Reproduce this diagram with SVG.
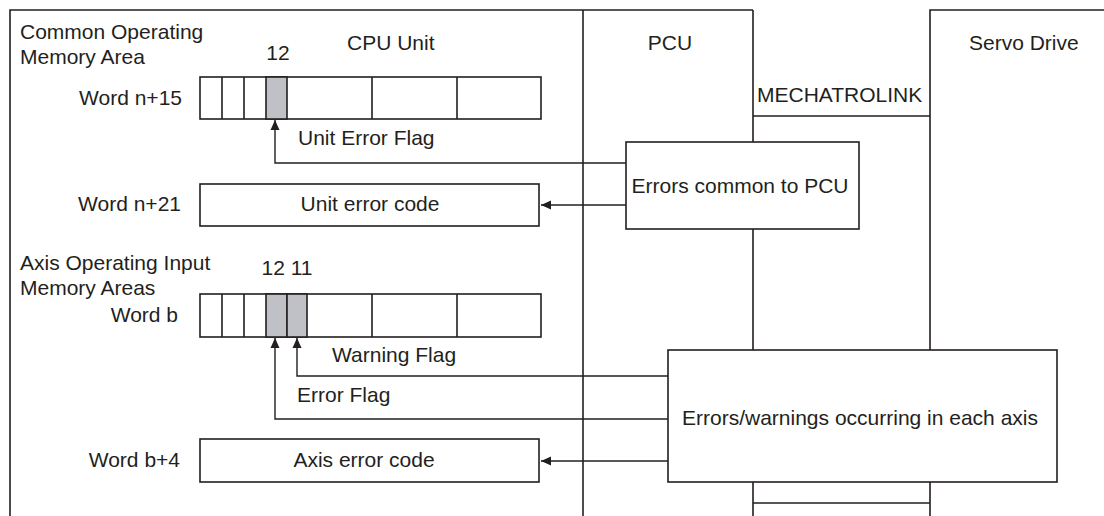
<svg xmlns="http://www.w3.org/2000/svg" width="1104" height="516" viewBox="0 0 1104 516">
<defs>
<marker id="ah" markerWidth="10" markerHeight="10" refX="10" refY="5" orient="auto" markerUnits="userSpaceOnUse">
<path d="M0,0.5 L10,5 L0,9.5 Z" fill="#231f20"/>
</marker>
<style>
.ln{stroke:#231f20;stroke-width:1.6;fill:none}
.bx{stroke:#231f20;stroke-width:1.6;fill:#fff}
.sh{stroke:#231f20;stroke-width:1.6;fill:#bfc1c7}
.cn{stroke:#231f20;stroke-width:1.4;fill:none}
text{font-family:"Liberation Sans",Arial,sans-serif;font-size:21px;fill:#231f20}
.m{text-anchor:middle}
.e{text-anchor:end}
</style>
</defs>
<rect width="1104" height="516" fill="#fff"/>
<g id="cpu-unit">
<path class="ln" d="M10,516 V10 H753"/>
<text x="20" y="39">Common Operating</text>
<text x="20" y="64">Memory Area</text>
<text x="347" y="50">CPU Unit</text>
</g>
<g id="pcu">
<path class="ln" d="M583,10 V516"/>
<path class="ln" d="M753,10 V142 M753,229 V350 M753,482 V516"/>
<text x="670" y="50" class="m">PCU</text>
</g>
<g id="servo-drive">
<path class="ln" d="M930,516 V482 M930,350 V10 H1104"/>
<text x="969" y="50">Servo Drive</text>
</g>
<g id="mechatrolink">
<path class="ln" d="M753,116 H930 M753,503 H930"/>
<text x="757" y="102">MECHATROLINK</text>
</g>
<g id="word-n15">
<text x="182" y="105" class="e">Word n+15</text>
<text x="278" y="60" class="m">12</text>
<rect class="bx" x="200" y="77" width="341" height="42"/>
<rect class="sh" x="266" y="77" width="21" height="42"/>
<path class="ln" d="M222,77 V119 M244,77 V119 M372,77 V119 M457,77 V119"/>
</g>
<g id="word-n21">
<text x="181" y="211" class="e">Word n+21</text>
<rect class="bx" x="200" y="184" width="339" height="42"/>
<text x="370" y="211" class="m">Unit error code</text>
</g>
<g id="word-b">
<text x="20" y="270">Axis Operating Input</text>
<text x="20" y="295">Memory Areas</text>
<text x="178" y="322" class="e">Word b</text>
<text x="287" y="275" class="m">12 11</text>
<rect class="bx" x="200" y="294" width="341" height="43"/>
<rect class="sh" x="266" y="294" width="21" height="43"/>
<rect class="sh" x="287" y="294" width="20" height="43"/>
<path class="ln" d="M222,294 V337 M244,294 V337 M372,294 V337 M457,294 V337"/>
</g>
<g id="word-b4">
<text x="180" y="467" class="e">Word b+4</text>
<rect class="bx" x="200" y="439" width="339" height="43"/>
<text x="364" y="467" class="m">Axis error code</text>
</g>
<g id="errors-common">
<rect class="bx" x="626" y="142" width="233" height="87"/>
<text x="740" y="193" class="m">Errors common to PCU</text>
</g>
<g id="errors-axis">
<rect class="bx" x="668" y="350" width="389" height="132"/>
<text x="860" y="425" class="m">Errors/warnings occurring in each axis</text>
</g>
<g id="connectors">
<path class="cn" d="M626,163 H275 V120" marker-end="url(#ah)"/>
<text x="298" y="145">Unit Error Flag</text>
<path class="cn" d="M626,205 H541" marker-end="url(#ah)"/>
<path class="cn" d="M668,376 H297 V338" marker-end="url(#ah)"/>
<text x="332" y="362">Warning Flag</text>
<path class="cn" d="M668,419 H275 V338" marker-end="url(#ah)"/>
<text x="297" y="402">Error Flag</text>
<path class="cn" d="M668,461 H541" marker-end="url(#ah)"/>
</g>
</svg>
